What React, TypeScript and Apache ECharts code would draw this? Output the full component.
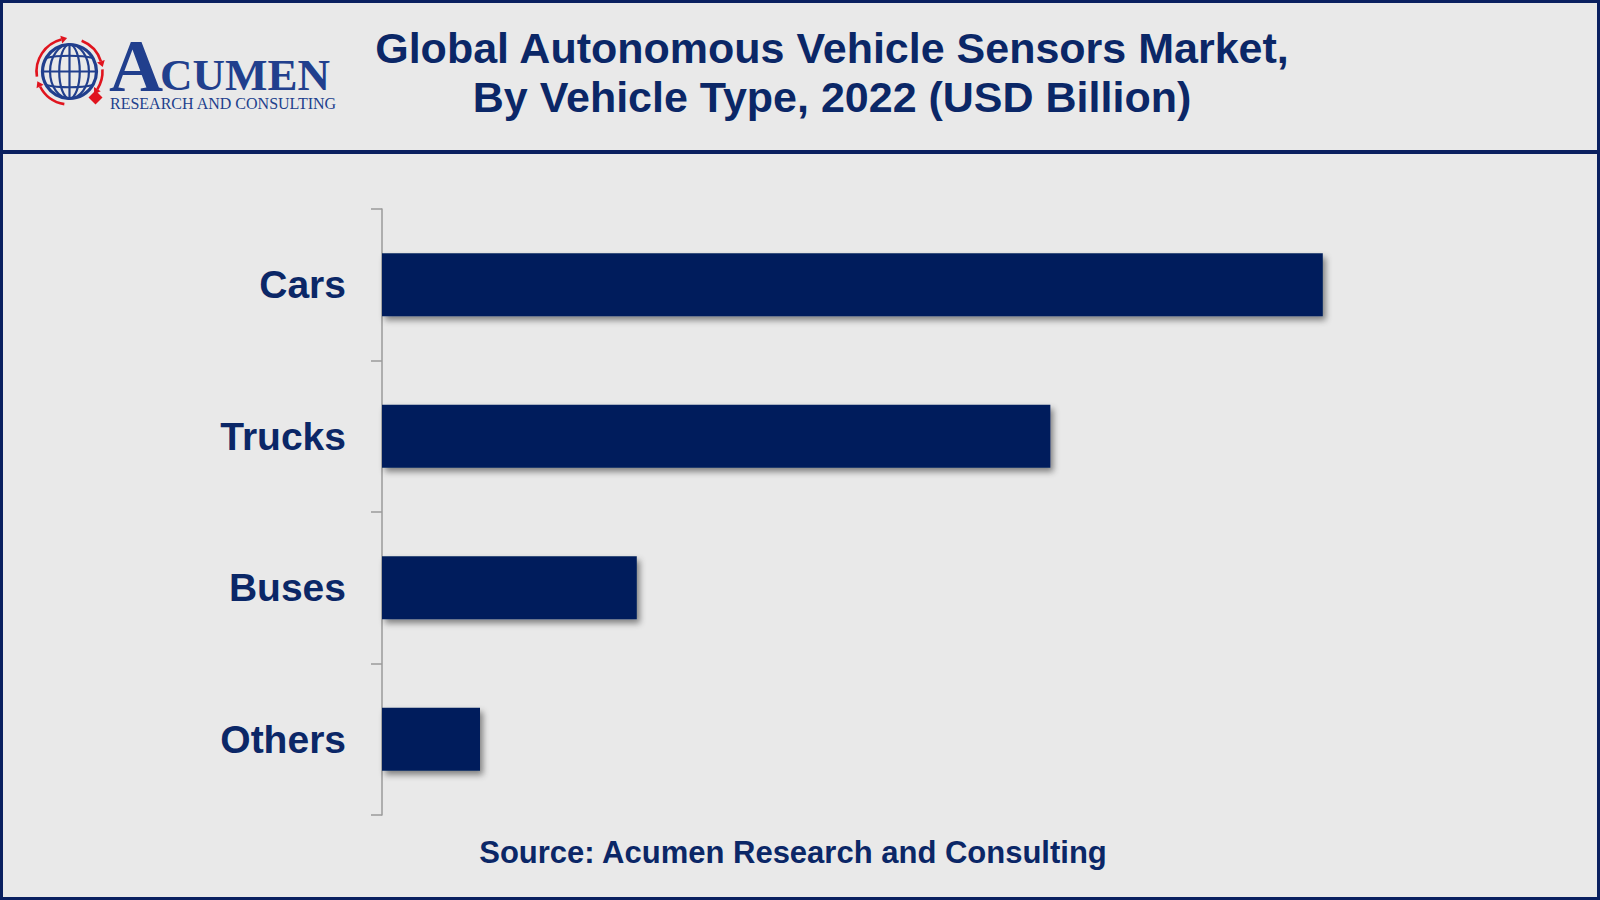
import React, { useEffect, useRef } from "react";
import * as echarts from "echarts";

const categories = ["Cars", "Trucks", "Buses", "Others"];
const values = [9.6, 6.82, 2.6, 1.0];
const xMax = 10;

const titleLines = [
  "Global Autonomous Vehicle Sensors Market,",
  "By Vehicle Type, 2022 (USD Billion)",
];
const sourceText = "Source: Acumen Research and Consulting";

const NAVY = "#0b2767";
const BAR = "#001f5b";
const LOGO = "#213f8d";
const RED = "#e0141e";
const BG = "#e9e9e9";
const FONT = "'Liberation Sans', Arial, Helvetica, sans-serif";
const SERIF = "'Liberation Serif', 'DejaVu Serif', serif";

function globe(cx: number, cy: number, r: number) {
  const els: any[] = [];
  const stroke = { stroke: LOGO, fill: "none", lineWidth: 2.2 };
  [r * 0.72, r * 0.38].forEach((rx) => {
    els.push({ type: "ellipse", shape: { cx, cy, rx, ry: r }, style: { ...stroke } });
  });
  els.push({ type: "line", shape: { x1: cx, y1: cy - r, x2: cx, y2: cy + r }, style: { ...stroke } });
  [-0.5, 0, 0.5].forEach((f) => {
    const dy = f * r;
    const half = Math.sqrt(r * r - dy * dy);
    els.push({
      type: "bezierCurve",
      shape: {
        x1: cx - half, y1: cy + dy,
        x2: cx + half, y2: cy + dy,
        cpx1: cx - half * 0.5, cpy1: cy + dy + (f === 0 ? 0 : f * 6),
        cpx2: cx + half * 0.5, cpy2: cy + dy + (f === 0 ? 0 : f * 6),
      },
      style: { ...stroke },
    });
  });
  els.push({ type: "circle", shape: { cx, cy, r }, style: { stroke: LOGO, fill: "none", lineWidth: 3.2 } });
  const R = r + 6;
  const arcs = [
    [Math.PI * 0.95, Math.PI * 1.42],
    [Math.PI * 1.62, Math.PI * 1.9],
    [Math.PI * 1.98, Math.PI * 2.18],
    [Math.PI * 0.55, Math.PI * 0.85],
  ];
  arcs.forEach(([a0, a1]) => {
    els.push({
      type: "arc",
      shape: { cx, cy, r: R, startAngle: a0, endAngle: a1, clockwise: true },
      style: { stroke: RED, fill: "none", lineWidth: 2.6 },
    });
    const ex = cx + R * Math.cos(a1);
    const ey = cy + R * Math.sin(a1);
    const tx = -Math.sin(a1);
    const ty = Math.cos(a1);
    const nx = Math.cos(a1);
    const ny = Math.sin(a1);
    els.push({
      type: "polygon",
      shape: {
        points: [
          [ex + tx * 6, ey + ty * 6],
          [ex + nx * 4, ey + ny * 4],
          [ex - nx * 4, ey - ny * 4],
        ],
      },
      style: { fill: RED },
    });
  });
  const dx = cx + 26, dy2 = cy + 26;
  els.push({
    type: "polygon",
    shape: { points: [[dx, dy2 - 7], [dx + 7, dy2], [dx, dy2 + 7], [dx - 7, dy2]] },
    style: { fill: RED },
  });
  return els;
}

export default function App() {
  const ref = useRef<HTMLDivElement>(null);
  useEffect(() => {
    document.body.style.margin = "0";
    const chart = echarts.init(ref.current!, undefined, { renderer: "svg" });
    chart.setOption({
      animation: false,
      backgroundColor: BG,
      grid: { left: 382, top: 209, width: 980, height: 606, containLabel: false },
      xAxis: { type: "value", min: 0, max: xMax, show: false, splitLine: { show: false } },
      yAxis: {
        type: "category",
        data: categories,
        inverse: true,
        axisLine: { show: true, lineStyle: { color: "#9a9a9a", width: 1.5 } },
        axisTick: { show: true, length: 11, lineStyle: { color: "#9a9a9a", width: 1.5 } },
        axisLabel: {
          margin: 36,
          fontSize: 39,
          fontWeight: "bold",
          fontFamily: FONT,
          color: NAVY,
        },
        splitLine: { show: false },
      },
      series: [
        {
          type: "bar",
          data: values,
          barWidth: 63,
          itemStyle: {
            color: BAR,
            shadowColor: "rgba(0,0,0,0.45)",
            shadowBlur: 6,
            shadowOffsetX: 3,
            shadowOffsetY: 4,
          },
          label: { show: false },
        },
      ],
      graphic: [
        {
          type: "rect",
          shape: { x: 1.5, y: 1.5, width: 1597, height: 897 },
          style: { fill: "none", stroke: "#0a2060", lineWidth: 3 },
          z: 100,
        },
        {
          type: "rect",
          shape: { x: 0, y: 150, width: 1600, height: 4 },
          style: { fill: "#0a2060" },
          z: 100,
        },
        {
          type: "text",
          x: 832,
          y: 48,
          style: {
            text: titleLines[0],
            font: `bold 43px ${FONT}`,
            fill: NAVY,
            textAlign: "center",
            textVerticalAlign: "middle",
          },
        },
        {
          type: "text",
          x: 832,
          y: 97,
          style: {
            text: titleLines[1],
            font: `bold 43px ${FONT}`,
            fill: NAVY,
            textAlign: "center",
            textVerticalAlign: "middle",
          },
        },
        {
          type: "text",
          x: 793,
          y: 852,
          style: {
            text: sourceText,
            font: `bold 31px ${FONT}`,
            fill: NAVY,
            textAlign: "center",
            textVerticalAlign: "middle",
          },
        },
        ...globe(69.5, 71.5, 27),
        {
          type: "text",
          x: 109,
          y: 65,
          style: {
            text: "A",
            font: `bold 75px ${SERIF}`,
            lineHeight: 50,
            fill: LOGO,
            textAlign: "left",
            textVerticalAlign: "middle",
          },
        },
        {
          type: "text",
          x: 160,
          y: 75,
          style: {
            text: "CUMEN",
            font: `bold 45px ${SERIF}`,
            lineHeight: 30,
            fill: LOGO,
            textAlign: "left",
            textVerticalAlign: "middle",
          },
        },
        {
          type: "text",
          x: 110,
          y: 103,
          style: {
            text: "RESEARCH AND CONSULTING",
            font: `16px ${SERIF}`,
            lineHeight: 11,
            fill: LOGO,
            textAlign: "left",
            textVerticalAlign: "middle",
          },
        },
      ],
    });
    return () => chart.dispose();
  }, []);
  return <div ref={ref} style={{ width: 1600, height: 900 }} />;
}
